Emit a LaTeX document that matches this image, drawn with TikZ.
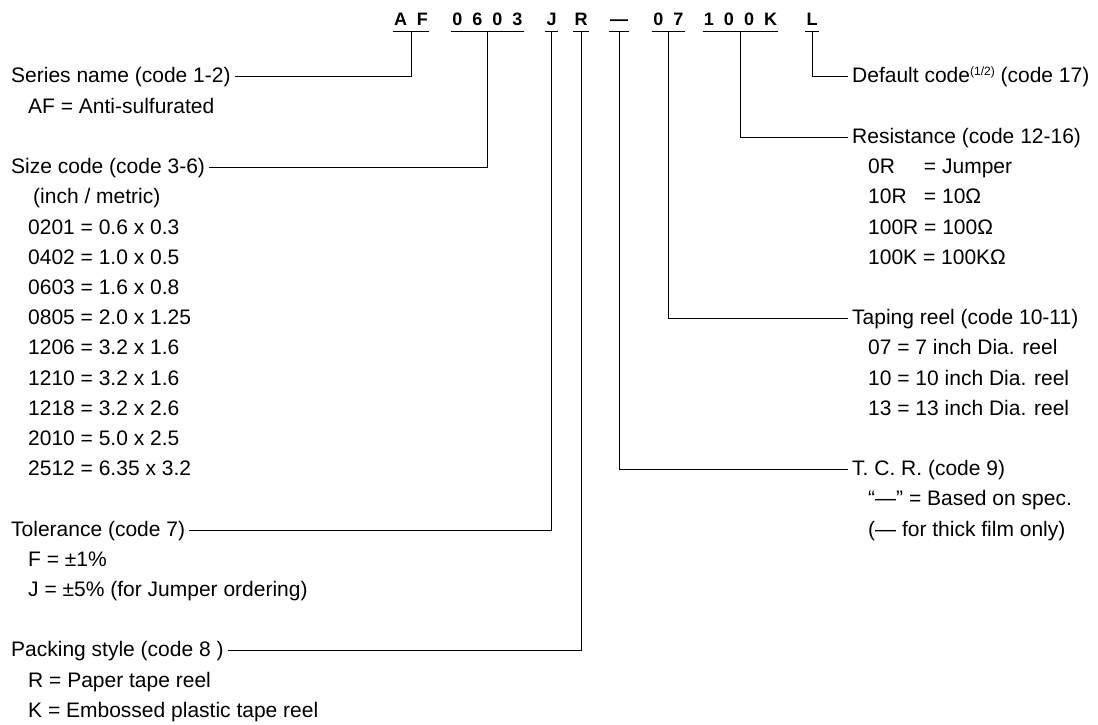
\documentclass[tikz,border=0pt]{standalone}
\usepackage{fontspec}
\setmainfont{Liberation Sans}
\newcommand\cgap{\hspace{10pt}}
\begin{document}
\begin{tikzpicture}[x=1pt,y=-1pt,
  lbl/.style={anchor=west, inner xsep=4pt, inner ysep=0pt, text height=15pt, text depth=3pt, font=\fontsize{21}{25}\selectfont},
  sub/.style={lbl},
  codech/.style={anchor=south, inner xsep=1pt, inner ysep=6pt, font=\fontsize{18}{20}\selectfont\bfseries},
  conn/.style={draw=black, line width=1pt},
]
\useasboundingbox (0,0) rectangle (1098,725);

% code characters on top
\node[codech] (af)    at (411,32)   {A\cgap F};
\node[codech] (sz)    at (487.5,32) {0\cgap 6\cgap 0\cgap 3};
\node[codech] (jj)    at (551.5,32) {J};
\node[codech] (rr)    at (581,32)   {R};
\node[codech] (dd)    at (619,32)   {—};
\node[codech] (tp)    at (668.5,32) {0\cgap 7};
\node[codech] (rs)    at (740.5,32) {1\cgap 0\cgap 0\cgap K};
\node[codech] (ll)    at (812,32)   {L};

\foreach \n in {af,sz,jj,rr,dd,tp,rs,ll}
  \draw[conn] (\n.south west) -- (\n.south east);

% left labels
\node[lbl] (series) at (7,77)    {Series name (code 1-2)};
\node[sub] (s1)     at (24,107.2) {AF = Anti-sulfurated};
\node[lbl] (size)   at (7,167.6) {Size code (code 3-6)};
\node[sub] (z0)     at (29,197.8) {(inch / metric)};
\node[sub] (z1)     at (24,228)   {0201 = 0.6 x 0.3};
\node[sub] (z2)     at (24,258.2) {0402 = 1.0 x 0.5};
\node[sub] (z3)     at (24,288.4) {0603 = 1.6 x 0.8};
\node[sub] (z4)     at (24,318.6) {0805 = 2.0 x 1.25};
\node[sub] (z5)     at (24,348.8) {1206 = 3.2 x 1.6};
\node[sub] (z6)     at (24,379)   {1210 = 3.2 x 1.6};
\node[sub] (z7)     at (24,409.2) {1218 = 3.2 x 2.6};
\node[sub] (z8)     at (24,439.4) {2010 = 5.0 x 2.5};
\node[sub] (z9)     at (24,469.6) {2512 = 6.35 x 3.2};
\node[lbl] (tol)    at (7,530)   {Tolerance (code 7)};
\node[sub] (t1)     at (24,560.2) {F = ±1\%};
\node[sub] (t2)     at (24,590.4) {J = ±5\% (for Jumper ordering)};
\node[lbl] (pack)   at (7,650.8) {Packing style (code 8 )};
\node[sub] (p1)     at (24,681)   {R = Paper tape reel};
\node[sub] (p2)     at (24,711.2) {K = Embossed plastic tape reel};

% right labels
\node[lbl] (def)    at (848,77)    {Default code\raisebox{7pt}{\fontsize{12}{12}\selectfont(1/2)} (code 17)};
\node[lbl] (res)    at (848,137.4) {Resistance (code 12-16)};
\node[sub] (r1)     at (864,167.6) {\makebox[55.8pt][l]{0R}= Jumper};
\node[sub] (r2)     at (864,197.8) {\makebox[55.8pt][l]{10R}= 10Ω};
\node[sub] (r3)     at (864,228)   {100R = 100Ω};
\node[sub] (r4)     at (864,258.2) {100K = 100KΩ};
\node[lbl] (tap)    at (848,318.6) {Taping reel (code 10-11)};
\node[sub] (a1)     at (864,348.8) {07 = 7 inch Dia. reel};
\node[sub] (a2)     at (864,379)   {10 = 10 inch Dia. reel};
\node[sub] (a3)     at (864,409.2) {13 = 13 inch Dia. reel};
\node[lbl] (tcr)    at (848,469.6) {T. C. R. (code 9)};
\node[sub] (c1)     at (864,499.8) {“—” = Based on spec.};
\node[sub] (c2)     at (864,530)   {(— for thick film only)};

% connectors
\draw[conn] (af.south) |- (series.east);
\draw[conn] (sz.south) |- (size.east);
\draw[conn] (jj.south) |- (tol.east);
\draw[conn] (rr.south) |- (pack.east);
\draw[conn] (dd.south) |- (tcr.west);
\draw[conn] (tp.south) |- (tap.west);
\draw[conn] (rs.south) |- (res.west);
\draw[conn] (ll.south) |- (def.west);
\end{tikzpicture}
\end{document}
